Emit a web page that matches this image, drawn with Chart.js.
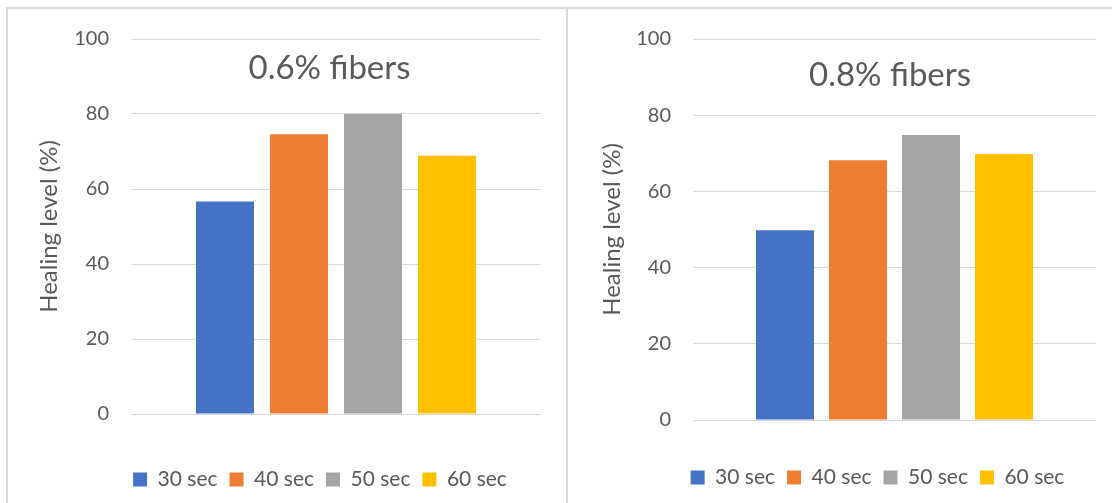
<!DOCTYPE html>
<html>
<head>
<meta charset="utf-8">
<script src="https://cdn.jsdelivr.net/npm/chart.js@4.4.1/dist/chart.umd.min.js"></script>
<style>
  html, body { margin: 0; padding: 0; background: #ffffff; overflow: hidden; }
  body { width: 1112px; height: 503px; position: relative; }
  .panel { position: absolute; box-sizing: border-box; border-color: #d9d9d9; border-style: solid; }
  canvas { position: absolute; top: 0; }
</style>
</head>
<body>
<div class="panel" style="left:6px; top:7px; width:562px; height:520px; border-width:2px 2px 0 2px;"></div>
<div class="panel" style="left:568px; top:7px; width:560px; height:520px; border-width:2px 0 0 0;"></div>
<canvas id="c1" width="567" height="520" style="left:0px;"></canvas>
<canvas id="c2" width="545" height="520" style="left:567px;"></canvas>
<script>
// ---- data ----
const categories = [''];
const seriesLabels = ['30 sec', '40 sec', '50 sec', '60 sec'];
const seriesColors = ['#4472C4', '#ED7D31', '#A5A5A5', '#FFC000'];
const fibers06 = [56.7, 74.6, 80, 68.9];
const fibers08 = [49.8, 68.2, 74.8, 69.8];
const yTicks = [0, 20, 40, 60, 80, 100];
const chartTitles = ['0.6% fibers', '0.8% fibers'];
const yAxisTitle = 'Healing level (%)';

const FONT = 'Lato, "Open Sans", "Liberation Sans", sans-serif';
const TEXT = '#595959';
const GRID = '#d9d9d9';

function overlayTitles(cfg) {
  return {
    id: 'overlayTitles',
    afterLayout(chart) {
      // centre the legend the way the source chart does
      const lg = chart.legend;
      if (lg) { lg.left = cfg.legendL; lg.right = cfg.legendR; }
    },
    afterDraw(chart) {
      const ctx = chart.ctx;
      const a = chart.chartArea;
      ctx.save();
      ctx.fillStyle = TEXT;
      ctx.font = '33px ' + FONT;
      ctx.textAlign = 'center';
      ctx.textBaseline = 'alphabetic';
      ctx.fillText(cfg.title, cfg.titleX, cfg.titleY);
      ctx.translate(cfg.yTitleX, (a.top + a.bottom) / 2);
      ctx.rotate(-Math.PI / 2);
      ctx.font = '24px ' + FONT;
      ctx.textBaseline = 'middle';
      ctx.fillText(yAxisTitle, 0, 0);
      ctx.restore();
    }
  };
}

function makeChart(id, values, cfg) {
  const datasets = seriesLabels.map((lab, i) => ({
    label: lab,
    data: [values[i]],
    backgroundColor: seriesColors[i],
    borderWidth: 0,
    categoryPercentage: cfg.catPct,
    barPercentage: cfg.barPct
  }));
  return new Chart(document.getElementById(id), {
    type: 'bar',
    data: { labels: categories, datasets },
    options: {
      responsive: false,
      animation: false,
      devicePixelRatio: 1,
      layout: { padding: cfg.padding },
      plugins: {
        legend: {
          position: 'bottom',
          labels: {
            boxWidth: 14, boxHeight: 14, padding: 12,
            color: TEXT, font: { family: FONT, size: 21 }
          }
        },
        tooltip: { enabled: false },
        title: { display: false }
      },
      scales: {
        x: {
          display: true,
          grid: { display: false },
          border: { display: false },
          ticks: { display: false },
          afterFit(s) { s.height = cfg.xHeight; }
        },
        y: {
          min: 0, max: 100,
          afterBuildTicks(s) { s.ticks = yTicks.map(v => ({ value: v })); },
          grid: { color: GRID, lineWidth: 1, drawTicks: false },
          border: { display: false },
          ticks: { padding: cfg.tickPad, color: TEXT, font: { family: FONT, size: 20 } },
          afterFit(s) { s.width = cfg.yWidth; }
        }
      }
    },
    plugins: [overlayTitles(cfg)]
  });
}

makeChart('c1', fibers06, {
  title: chartTitles[0], titleX: 329.5, titleY: 79, yTitleX: 49,
  padding: { left: 0, right: 27, top: 39, bottom: 20 },
  yWidth: 132, tickPad: 23, xHeight: 43,
  legendL: 100, legendR: 540,
  catPct: 296 / 408, barPct: 58 / 74
});
makeChart('c2', fibers08, {
  title: chartTitles[1], titleX: 323, titleY: 86, yTitleX: 45,
  padding: { left: 0, right: 16, top: 39, bottom: 22 },
  yWidth: 126, tickPad: 22, xHeight: 35,
  legendL: 92, legendR: 529,
  catPct: 292 / 403, barPct: 58 / 73
});
</script>
</body>
</html>
